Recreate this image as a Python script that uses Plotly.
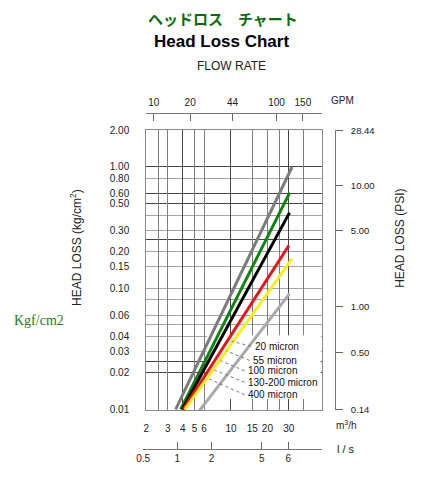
import numpy as np
import plotly.graph_objects as go

W, H = 438, 500

# ---------------- data ----------------
series_names = ["20 micron", "55 micron", "100 micron", "130-200 micron", "400 micron", "housing"]
flow_start = [3.49, 3.84, 3.97, 4.04, 4.17, 5.34]      # m3/h
flow_end = [32.0, 30.6, 30.5, 30.1, 32.0, 30.5]        # m3/h
loss_start = [0.010, 0.010, 0.010, 0.010, 0.010, 0.0094]  # kg/cm2
loss_end = [1.00, 0.614, 0.42, 0.225, 0.175, 0.090]       # kg/cm2
series_colors = ["#7c7c7c", "#0f820f", "#000000", "#e8141a", "#f4ee1c", "#a9a9a9"]

label_names = ["20 micron", "55 micron", "100 micron", "130-200 micron", "400 micron"]

kg_ticks = [2.0, 1.0, 0.8, 0.6, 0.5, 0.3, 0.2, 0.15, 0.1, 0.06, 0.04, 0.03, 0.02, 0.01]
kg_labels = ["2.00", "1.00", "0.80", "0.60", "0.50", "0.30", "0.20", "0.15", "0.10",
             "0.06", "0.04", "0.03", "0.02", "0.01"]

psi_labels = ["28.44", "10.00", "5.00", "1.00", "0.50", "0.14"]
psi_pos_kg = [2.0, 0.70, 0.30, 0.070, 0.0295, 0.0099]

m3h_ticks = [2, 3, 4, 5, 6, 10, 15, 20, 30]
m3h_labels = ["2", "3", "4", "5", "6", "10", "15", "20", "30"]

gpm_labels = ["10", "20", "44", "100", "150"]
gpm_pos_m3h = [2.3, 4.6, 10.3, 23.8, 39.3]

ls_labels = ["0.5", "1", "2", "5", "6"]
ls_pos_m3h = [1.88, 3.6, 6.9, 18.0, 29.7]

h_grid_light = [.8, .4, .3, .2, .15, .1, .08, .06, .05, .04, .03]
h_grid_dark = [1, .6, .5, .25, .025, .02]
v_grid_light = [2.5, 3, 5, 6, 15, 20, 25, 40]
v_grid_dark = [4, 10, 30]

# ---------------- geometry helpers ----------------
def px(x):
    return x / W

def py(y):
    return 1 - y / H

PL, PR, PT, PB = 141.5, 319.7, 127.7, 413.3
XR = [0.300, 1.749]
YR = [-2.006, 0.304]
FONT = "Liberation Sans, Arial, sans-serif"
DARK_GRID = "#454545"
LIGHT_GRID = "#a3a3a3"
VLIGHT_GRID = "#7d7d7d"

def xdata(p):   # pixel -> m3/h (position helper for the label panel)
    return 10 ** (XR[0] + (p - PL) / (PR - PL) * (XR[1] - XR[0]))

def ydata(p):   # pixel -> kg/cm2
    return 10 ** (YR[1] - (p - PT) / (PB - PT) * (YR[1] - YR[0]))

fig = go.Figure()

# white label panel (a filled trace: above grid, below series)
bx0, bx1, by0, by1 = xdata(203), xdata(PR - 0.8), ydata(402), ydata(337)
fig.add_trace(go.Scatter(x=[bx0, bx1, bx1, bx0, bx0], y=[by0, by0, by1, by1, by0],
                         mode="lines", fill="toself", fillcolor="white",
                         line=dict(width=0, color="white"), showlegend=False, hoverinfo="skip"))

# ---------------- series ----------------
for name, fs, fe, ls_, le, c in zip(series_names, flow_start, flow_end, loss_start, loss_end, series_colors):
    fig.add_trace(go.Scatter(x=[fs, fe], y=[ls_, le], mode="lines", name=name,
                             line=dict(color=c, width=3), showlegend=False, hoverinfo="skip"))

# invisible carriers for extra axes
def carrier(xa, ya):
    fig.add_trace(go.Scatter(x=[None], y=[None], xaxis=xa, yaxis=ya, mode="markers",
                             showlegend=False, hoverinfo="skip"))

carrier("x2", "y")
carrier("x", "y2")
carrier("x4", "y")
carrier("x5", "y")
carrier("x", "y4")
carrier("x", "y5")
fig.add_trace(go.Scatter(x=ls_pos_m3h, y=[None] * len(ls_pos_m3h), xaxis="x3", yaxis="y3",
                         mode="markers", showlegend=False, hoverinfo="skip"))

# ---------------- shapes: leader lines ----------------
shapes = []
lead_start = [(248, 348.3), (246.5, 362.7), (241.5, 373.3), (241.5, 385), (241.5, 397.7)]
lead_end = [(228, 343), (223, 353), (217, 363), (211, 372.5), (205, 381.5)]
for (x0, y0), (x1, y1) in zip(lead_start, lead_end):
    shapes.append(dict(type="line", xref="paper", yref="paper", x0=px(x0), y0=py(y0),
                       x1=px(x1), y1=py(y1), layer="above",
                       line=dict(color="#777777", width=1, dash="dot")))

# ---------------- annotations ----------------
ann = []
def text(x, y, s, size=10, color="#222", family=FONT, angle=0, xanchor="center"):
    ann.append(dict(x=px(x), y=py(y), xref="paper", yref="paper", text=s, showarrow=False,
                    xanchor=xanchor, yanchor="middle", textangle=angle,
                    font=dict(size=size, color=color, family=family)))

text(220, 14, "<b>ヘッドロス　チャート</b>", size=15, color="#0b6a0b",
     family="Noto Sans CJK JP, sans-serif")
text(218, 37.5, "<b>Head Loss Chart</b>", size=17, color="#000")
text(228, 62, "FLOW RATE", size=12, color="#222")
text(341, 97.7, "GPM", size=10)
text(345, 429, "m<sup>3</sup>/h", size=10)
text(344, 453.3, "l / s", size=11)
text(70, 247, "HEAD LOSS (kg/cm<sup>2</sup>)", size=12, angle=-90)
text(400, 238, "HEAD LOSS (PSI)", size=12, angle=-90)
text(33, 322, "Kgf/cm2", size=14, color="#1f7a1f", family="Liberation Serif, Times New Roman, serif")

label_x = [250, 248.3, 243.3, 243.3, 243.3]
label_y = [348.3, 362.7, 373.3, 385, 397.7]
for s, x, y in zip(label_names, label_x, label_y):
    text(x, y, s, size=10, color="#111", xanchor="left")

# ---------------- layout ----------------
tickfont = dict(size=10, color="#222", family=FONT)

def grid_x(vals, color):
    return dict(type="log", range=XR, overlaying="x", anchor="y", tickmode="array",
                tickvals=vals, showticklabels=False, ticks="", showgrid=True,
                gridcolor=color, gridwidth=1, zeroline=False, showline=False)

def grid_y(vals, color):
    return dict(type="log", range=YR, overlaying="y", anchor="x", tickmode="array",
                tickvals=vals, showticklabels=False, ticks="", showgrid=True,
                gridcolor=color, gridwidth=1, zeroline=False, showline=False)

fig.update_layout(
    width=W, height=H, margin=dict(l=0, r=0, t=0, b=0),
    paper_bgcolor="white", plot_bgcolor="white",
    shapes=shapes, annotations=ann, showlegend=False,
    xaxis=dict(type="log", range=XR, domain=[px(PL), px(PR)], anchor="y",
               tickmode="array", tickvals=m3h_ticks, ticktext=m3h_labels,
               ticks="outside", ticklen=9, tickcolor="rgba(0,0,0,0)",
               showgrid=False, zeroline=False, showline=True, mirror=True,
               linecolor="#8a8a8a", linewidth=1, tickfont=tickfont),
    yaxis=dict(type="log", range=YR, domain=[py(PB), py(PT)], anchor="x",
               tickmode="array", tickvals=kg_ticks, ticktext=kg_labels,
               ticks="outside", ticklen=14, tickcolor="rgba(0,0,0,0)",
               showgrid=False, zeroline=False, showline=True, mirror=True,
               linecolor="#8a8a8a", linewidth=1,
               tickfont=dict(size=10, color="#222", family=FONT)),
    xaxis2=dict(type="log", range=XR, overlaying="x", anchor="free", position=py(110),
                side="top", tickmode="array", tickvals=gpm_pos_m3h, ticktext=gpm_labels,
                ticks="inside", ticklen=7, tickcolor="#666", showgrid=False, zeroline=False,
                showline=True, linecolor="#777", linewidth=1, tickfont=tickfont,
                ticklabelstandoff=3),
    yaxis2=dict(type="log", range=YR, overlaying="y", anchor="free", position=px(333.3),
                side="right", tickmode="array", tickvals=psi_pos_kg, ticktext=psi_labels,
                ticks="outside", ticklen=7, tickcolor="#666", showgrid=False, zeroline=False,
                showline=True, linecolor="#777", linewidth=1,
                tickfont=dict(size=9.5, color="#222", family=FONT), ticklabelstandoff=6),
    xaxis3=dict(type="log", range=[XR[0] - (PL - 138.3) / 123.0, XR[1]],
                domain=[px(138.3), px(PR)], anchor="y3",
                tickmode="array", tickvals=ls_pos_m3h, ticktext=ls_labels,
                ticks="inside", ticklen=7, tickcolor="#666", showgrid=False, zeroline=False,
                showline=True, linecolor="#777", linewidth=1, tickfont=tickfont),
    yaxis3=dict(domain=[py(453.3), py(440)], anchor="x3", range=[0, 1], visible=False),
    xaxis4=grid_x(v_grid_light, VLIGHT_GRID),
    xaxis5=grid_x(v_grid_dark, DARK_GRID),
    yaxis4=grid_y(h_grid_light, LIGHT_GRID),
    yaxis5=grid_y(h_grid_dark, DARK_GRID),
)

fig.write_html("out.html")
